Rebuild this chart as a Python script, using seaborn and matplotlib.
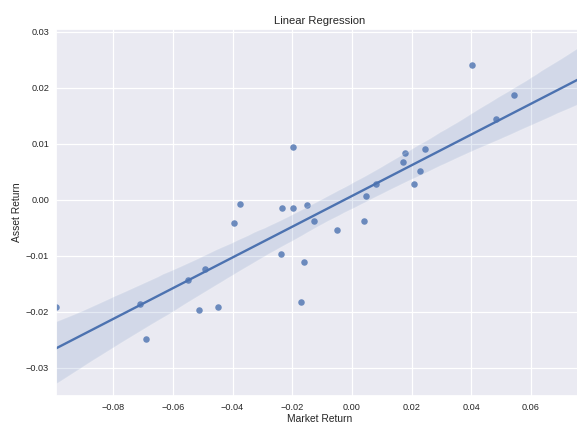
import numpy as np
import seaborn as sns
import pandas as pd
import matplotlib.pyplot as plt

# Market / asset returns
# (last point sits on the right edge of the axes, cut off by the crop; its y is
# estimated from where the fitted line runs)
market_return = [-0.0992, -0.0711, -0.0689, -0.0550, -0.0514, -0.0493, -0.0450,
                 -0.0395, -0.0374, -0.0238, -0.0235, -0.0197, -0.0197, -0.0172,
                 -0.0162, -0.0150, -0.0126, -0.0050, 0.0042, 0.0046, 0.0081,
                 0.0171, 0.0177, 0.0209, 0.0227, 0.0245, 0.0401, 0.0482, 0.0543,
                 0.0778]
asset_return = [-0.01914, -0.01856, -0.02474, -0.01428, -0.01963, -0.01226, -0.01904,
                -0.00406, -0.00068, -0.00970, -0.00153, 0.00938, -0.00144, -0.01825,
                -0.01112, -0.00091, -0.00376, -0.00542, -0.00385, 0.00075, 0.00278,
                0.00681, 0.00841, 0.00283, 0.00515, 0.00913, 0.02410, 0.01442, 0.01875,
                0.0165]

df = pd.DataFrame({'Market Return': market_return, 'Asset Return': asset_return})

sns.set_theme(style='darkgrid')
plt.rcParams['font.family'] = ['Liberation Sans', 'DejaVu Sans']
plt.rcParams['grid.linewidth'] = 0.9

fig = plt.figure(figsize=(5.77, 4.24), dpi=100)
ax = fig.add_axes([56 / 577, 28 / 424, 528 / 577, 367 / 424])
xlim = (min(market_return), max(market_return))
ax.set_xlim(xlim)
ax.set_ylim(-0.035, 0.0305)

sns.regplot(data=df, x='Market Return', y='Asset Return', ax=ax, truncate=False,
            seed=3, scatter_kws={'s': 22, 'linewidths': 0},
            line_kws={'linewidth': 1.7})

ax.set_xlim(xlim)
ax.set_ylim(-0.035, 0.0305)
ax.set_xticks([-0.08, -0.06, -0.04, -0.02, 0.00, 0.02, 0.04, 0.06])
ax.set_yticks([-0.03, -0.02, -0.01, 0.00, 0.01, 0.02, 0.03])
ax.set_xticklabels([f'{v:.2f}'.replace('-', '\u2212') for v in ax.get_xticks()])
ax.set_yticklabels([f'{v:.2f}'.replace('-', '\u2212') for v in ax.get_yticks()])
ax.tick_params(labelsize=6.6, length=0)
ax.tick_params(axis='x', pad=4.8)
ax.tick_params(axis='y', pad=5)
ax.set_xlabel('Market Return', fontsize=7.4, labelpad=1.5)
ax.set_ylabel('Asset Return', fontsize=7.4, labelpad=3)
ax.set_title('Linear Regression', fontsize=8.1, pad=3.5)

fig.savefig('out.png', dpi=100)
